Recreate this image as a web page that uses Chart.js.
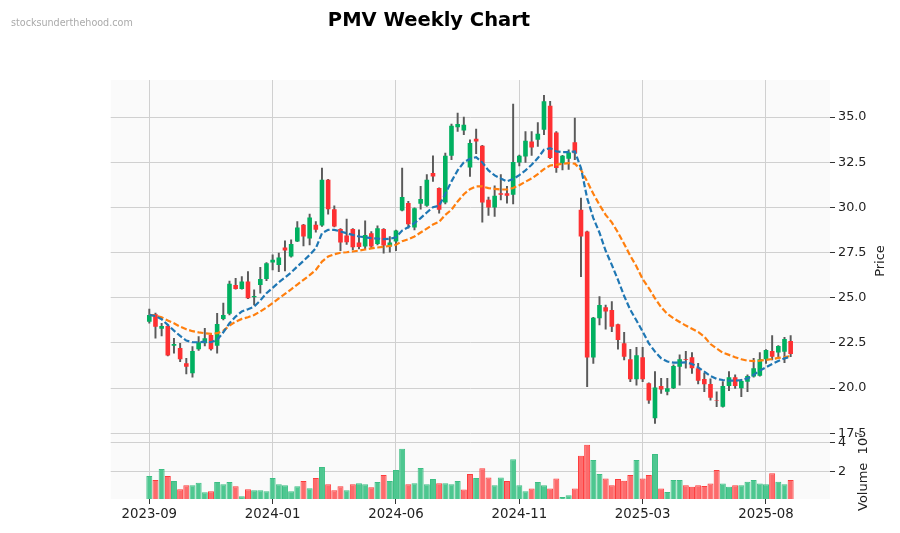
<!DOCTYPE html>
<html>
<head>
<meta charset="utf-8">
<title>PMV Weekly Chart</title>
<script src="https://cdn.jsdelivr.net/npm/chart.js@4.4.1/dist/chart.umd.min.js"></script>
<style>
  html, body { margin: 0; padding: 0; background: #fff; }
  #chart { display: block; }
</style>
</head>
<body>
<canvas id="chart" width="900" height="533"></canvas>
<script>
// weekly candles, one entry per week starting at 2023-09
const opens = [23.68,24.09,23.29,23.44,22.35,22.22,21.37,20.82,22.15,22.48,
  22.94,22.35,23.83,24.11,25.71,25.49,25.90,25.03,25.71,26.04,
  26.95,26.82,27.78,27.28,28.11,29.04,28.28,29.04,29.00,31.53,
  29.90,28.81,28.45,28.81,28.06,27.84,28.57,27.98,28.81,27.84,
  28.11,29.83,30.24,28.89,30.20,30.09,31.90,31.07,30.27,32.86,
  34.43,34.26,32.21,33.80,33.41,30.42,30.00,30.79,30.79,30.70,
  32.49,32.82,33.65,33.74,34.30,35.63,34.15,32.45,32.69,33.60,
  29.87,28.67,21.69,23.87,24.48,24.33,23.53,22.48,21.60,20.49,
  21.71,20.27,18.33,20.12,19.80,19.99,21.19,21.60,21.71,21.10,
  20.51,20.23,19.34,18.97,20.12,20.60,19.99,20.36,20.64,20.69,
  21.60,22.06,21.97,22.02,22.61];

const highs = [24.37,24.15,23.59,23.50,22.76,22.48,21.65,22.30,22.85,23.31,
  23.00,24.14,24.70,25.93,26.08,26.17,26.45,25.44,26.69,26.95,
  27.37,27.47,28.15,28.20,29.22,29.06,29.63,29.22,32.18,31.55,
  30.09,28.83,29.35,28.83,28.76,29.26,28.66,28.98,28.83,28.39,
  28.74,32.18,30.33,29.98,31.16,31.81,32.86,31.09,33.00,34.61,
  35.22,35.00,33.74,34.34,33.43,30.57,31.20,31.81,31.16,35.72,
  32.90,34.20,34.20,34.70,36.20,35.87,34.20,32.88,33.19,34.94,
  30.51,28.69,23.92,25.07,24.60,24.79,23.55,23.09,22.15,22.26,
  22.26,20.30,20.91,20.54,20.54,21.29,21.84,22.03,21.97,21.37,
  20.82,20.51,19.80,20.36,20.91,20.73,20.49,20.73,21.65,21.97,
  22.13,22.91,22.35,22.81,22.91];

const lows = [23.59,22.76,22.89,21.78,21.93,21.47,20.78,20.60,22.08,22.33,
  22.10,21.93,23.77,24.05,25.47,25.47,24.95,24.60,25.25,25.95,
  26.54,26.45,26.49,27.25,28.10,27.87,27.93,28.63,28.95,29.63,
  28.92,27.60,27.95,27.65,27.70,27.72,27.75,27.93,27.47,27.52,
  27.60,29.80,28.85,28.76,29.90,30.05,31.44,29.68,30.20,32.64,
  34.20,34.02,31.71,32.97,29.18,29.55,29.50,30.42,30.24,30.20,
  32.30,32.49,32.88,33.38,34.02,32.70,31.94,32.08,32.10,32.64,
  26.17,20.08,21.37,23.50,23.26,23.13,22.15,21.56,20.36,20.17,
  20.36,19.16,18.05,19.71,19.62,19.97,20.17,21.10,20.82,20.23,
  19.80,19.34,18.97,18.94,19.86,19.99,19.53,19.80,20.60,20.66,
  21.37,21.56,21.74,21.41,21.74];

const closes = [24.05,23.40,23.44,21.80,22.44,21.60,21.19,22.06,22.54,22.76,
  22.15,23.55,24.05,25.77,25.49,25.90,24.97,25.10,26.04,26.91,
  27.10,27.23,27.61,27.98,28.89,28.39,29.44,28.76,31.53,29.90,
  28.94,28.06,28.07,27.80,27.81,28.48,27.84,28.85,27.89,28.06,
  28.72,30.57,29.07,29.96,30.46,31.53,31.71,29.87,32.86,34.52,
  34.61,34.58,33.56,33.65,30.27,30.00,30.64,30.70,30.64,32.51,
  32.86,33.69,33.32,34.08,35.87,32.73,32.18,32.86,33.04,33.00,
  28.39,21.69,23.90,24.60,24.24,23.40,22.67,21.74,20.49,21.82,
  20.49,19.31,20.04,19.93,19.99,21.23,21.60,21.56,21.10,20.41,
  20.21,19.47,19.31,20.12,20.60,20.12,20.40,20.67,21.10,21.60,
  22.11,21.74,22.33,22.72,21.89];

// volume in units of 10^7
const volumes = [1.70,1.43,2.19,1.70,1.36,0.81,1.08,1.08,1.24,0.60,
  0.67,1.29,1.15,1.29,1.01,0.32,0.81,0.74,0.74,0.67,
  1.57,1.15,1.08,0.67,1.01,1.36,0.88,1.57,2.32,1.15,
  0.74,1.01,0.74,1.15,1.22,1.15,0.94,1.29,1.77,1.36,
  2.12,3.57,1.15,1.22,2.26,1.15,1.50,1.22,1.22,1.15,
  1.36,0.78,1.85,1.57,2.23,1.61,1.08,1.61,1.36,2.85,
  1.08,0.67,0.85,1.29,1.08,0.85,1.54,0.28,0.39,0.85,
  3.08,3.84,2.80,1.85,1.54,1.08,1.50,1.38,1.77,2.80,
  1.54,1.77,3.20,0.85,0.62,1.43,1.43,1.08,0.97,1.08,
  1.02,1.20,2.12,1.20,0.97,1.08,1.08,1.31,1.43,1.20,
  1.15,1.89,1.31,1.15,1.43];

// moving averages as drawn (blue = fast, orange = slow)
const maFast = [24.05,23.99,23.81,23.50,23.18,22.89,22.63,22.54,22.54,22.57,
  22.54,22.67,23.09,23.59,23.96,24.24,24.37,24.51,24.85,25.25,
  25.55,25.85,26.12,26.40,26.73,27.04,27.37,27.74,28.57,28.76,
  28.76,28.67,28.57,28.48,28.39,28.35,28.30,28.28,28.24,28.26,
  28.35,28.72,28.91,29.13,29.41,29.72,30.01,30.09,30.75,31.44,
  32.05,32.49,32.69,32.78,32.49,32.05,31.77,31.60,31.44,31.57,
  31.79,32.05,32.36,32.73,33.19,33.28,33.10,33.06,33.06,33.10,
  32.18,30.51,29.41,28.60,27.60,26.82,25.99,25.10,24.33,23.74,
  23.13,22.48,22.02,21.65,21.47,21.41,21.41,21.43,21.34,21.15,
  20.91,20.67,20.51,20.45,20.41,20.41,20.45,20.54,20.73,20.97,
  21.15,21.34,21.50,21.65,21.74];

const maSlow = [24.05,24.01,23.92,23.74,23.59,23.40,23.26,23.15,23.09,23.04,
  23.00,23.04,23.18,23.46,23.68,23.83,23.92,24.05,24.24,24.46,
  24.70,24.96,25.21,25.47,25.73,25.99,26.25,26.54,27.00,27.28,
  27.41,27.49,27.52,27.56,27.61,27.67,27.73,27.78,27.82,27.87,
  27.93,28.13,28.24,28.39,28.61,28.83,29.05,29.20,29.59,29.87,
  30.33,30.73,31.01,31.16,31.16,31.07,31.03,30.99,30.99,31.07,
  31.23,31.42,31.60,31.84,32.12,32.32,32.36,32.42,32.45,32.42,
  32.08,31.44,30.75,30.14,29.59,29.17,28.61,27.98,27.32,26.73,
  26.03,25.53,24.97,24.48,24.11,23.87,23.66,23.46,23.29,23.11,
  22.85,22.44,22.19,21.96,21.84,21.71,21.60,21.52,21.50,21.52,
  21.56,21.61,21.67,21.72,21.78];

const priceTicks = [17.5, 20, 22.5, 25, 27.5, 30, 32.5, 35];
const volumeTicks = [2, 4];
const xTickPos = [0, 20, 40, 60, 80, 100];
const xTickLabels = ["2023-09", "2024-01", "2024-06", "2024-11", "2025-03", "2025-08"];

const upColor = "#00b060";
const downColor = "#fe3032";
const volUpColor = "#4dc790";
const volDownColor = "#fd6b6c";
const gridColor = "#d0d0d0";
const tickFont = { family: "'DejaVu Sans', sans-serif", size: 12.8 };

Chart.defaults.font.family = "'DejaVu Sans', sans-serif";

const weekIdx = closes.map((c, i) => i);
const bodyColors = closes.map((c, i) => (c >= opens[i] ? upColor : downColor));
const volColors = closes.map((c, i) => (i === 0 || c >= closes[i - 1] ? volUpColor : volDownColor));
const volEdges = closes.map((c, i) => (i === 0 || c >= closes[i - 1] ? "#3cbf84" : "#fe3c3c"));

const decorations = {
  id: "decorations",
  beforeDraw(chart) {
    const { ctx, chartArea } = chart;
    ctx.save();
    ctx.fillStyle = "#ffffff";
    ctx.fillRect(0, 0, chart.width, chart.height);
    ctx.fillStyle = "#fafafa";
    ctx.fillRect(chartArea.left, chartArea.top,
      chartArea.right - chartArea.left, chartArea.bottom - chartArea.top);
    ctx.restore();
  },
  afterDraw(chart) {
    const ctx = chart.ctx;
    ctx.save();
    // title
    ctx.fillStyle = "#000";
    ctx.font = "bold 19.5px 'DejaVu Sans', sans-serif";
    ctx.textAlign = "center";
    ctx.textBaseline = "alphabetic";
    ctx.fillText("PMV Weekly Chart", 429, 26);
    // watermark
    ctx.fillStyle = "#aaaaaa";
    ctx.font = "9.6px 'DejaVu Sans', sans-serif";
    ctx.textAlign = "left";
    ctx.fillText("stocksunderthehood.com", 11, 25.5);

    // axis labels
    ctx.fillStyle = "#222";
    ctx.font = "13px 'DejaVu Sans', sans-serif";
    ctx.textBaseline = "middle";
    ctx.save();
    ctx.translate(881, 261);
    ctx.rotate(-Math.PI / 2);
    ctx.textAlign = "center";
    ctx.fillText("Price", 0, 0);
    ctx.restore();

    ctx.save();
    ctx.translate(864, 511);
    ctx.rotate(-Math.PI / 2);
    ctx.textAlign = "left";
    const base = "Volume  10";
    ctx.fillText(base, 0, 0);
    const w = ctx.measureText(base).width;
    ctx.font = "9px 'DejaVu Sans', sans-serif";
    ctx.fillText("7", w + 0.5, -4);
    ctx.restore();

    ctx.restore();
  }
};

const ctx = document.getElementById("chart").getContext("2d");
const chart = new Chart(ctx, {
  type: "bar",
  data: {
    datasets: [
      {
        type: "line",
        label: "MA fast",
        data: weekIdx.map((i) => ({ x: i, y: maFast[i] })),
        yAxisID: "y",
        borderColor: "#1f77b4",
        borderWidth: 2.2,
        borderDash: [6, 2.6],
        pointRadius: 0,
        tension: 0,
        fill: false,
        order: 0,
      },
      {
        type: "line",
        label: "MA slow",
        data: weekIdx.map((i) => ({ x: i, y: maSlow[i] })),
        yAxisID: "y",
        borderColor: "#ff7f0e",
        borderWidth: 2.2,
        borderDash: [6, 2.6],
        pointRadius: 0,
        tension: 0,
        fill: false,
        order: 0,
      },
      {
        label: "Body",
        data: weekIdx.map((i) => ({ x: i, y: [opens[i], closes[i]] })),
        yAxisID: "y",
        backgroundColor: bodyColors,
        borderWidth: 0,
        barPercentage: 0.75,
        categoryPercentage: 1,
        grouped: false,
        order: 1,
      },
      {
        label: "Wick",
        data: weekIdx.map((i) => ({ x: i, y: [lows[i], highs[i]] })),
        yAxisID: "y",
        backgroundColor: "#5a5a5a",
        borderWidth: 0,
        barThickness: 1.3,
        grouped: false,
        order: 2,
      },
      {
        label: "Volume",
        data: weekIdx.map((i) => ({ x: i, y: volumes[i] })),
        yAxisID: "yv",
        backgroundColor: volColors,
        borderColor: volEdges,
        borderWidth: 1,
        barPercentage: 0.97,
        categoryPercentage: 1,
        grouped: false,
        order: 3,
      },
    ],
  },
  options: {
    responsive: false,
    animation: false,
    devicePixelRatio: 1,
    layout: { padding: { left: 110.7, top: 80, right: 0, bottom: 0 } },
    plugins: {
      legend: { display: false },
      tooltip: { enabled: false },
      title: { display: false },
    },
    scales: {
      x: {
        type: "linear",
        min: -6.26,
        max: 110.38,
        offset: false,
        grid: {
          color: gridColor,
          offset: false,
          lineWidth: 1,
          drawTicks: true,
          tickLength: 5,
          tickColor: "#333",
        },
        border: { display: false },
        ticks: {
          font: { family: "'DejaVu Sans', sans-serif", size: 13.3 },
          color: "#222",
          padding: 3,
          maxRotation: 0,
          autoSkip: false,
          callback: (v) => {
            const k = xTickPos.indexOf(v);
            return k >= 0 ? xTickLabels[k] : "";
          },
        },
        afterBuildTicks: (s) => {
          s.ticks = xTickPos.map((v) => ({ value: v }));
        },
        afterFit: (s) => {
          s.height = 34;
        },
      },
      y: {
        type: "linear",
        position: "right",
        stack: "panels",
        stackWeight: 360,
        min: 17.13,
        max: 37.05,
        grid: {
          color: gridColor,
          lineWidth: 1,
          tickLength: 5,
          tickColor: "#333",
        },
        border: { display: false },
        ticks: {
          font: tickFont,
          color: "#222",
          padding: 3,
          callback: (v) => Number(v).toFixed(1),
        },
        afterBuildTicks: (s) => {
          s.ticks = priceTicks.map((v) => ({ value: v }));
        },
        afterFit: (s) => {
          s.width = 70;
        },
      },
      yv: {
        type: "linear",
        position: "right",
        stack: "panels",
        stackWeight: 59,
        min: 0.14,
        max: 4.16,
        grid: {
          color: gridColor,
          lineWidth: 1,
          tickLength: 5,
          tickColor: "#333",
        },
        border: { display: false },
        ticks: {
          font: tickFont,
          color: "#222",
          padding: 3,
          callback: (v) => String(v),
        },
        afterBuildTicks: (s) => {
          s.ticks = volumeTicks.map((v) => ({ value: v }));
        },
        afterFit: (s) => {
          s.width = 70;
        },
      },
    },
  },
  plugins: [decorations],
});
</script>
</body>
</html>
